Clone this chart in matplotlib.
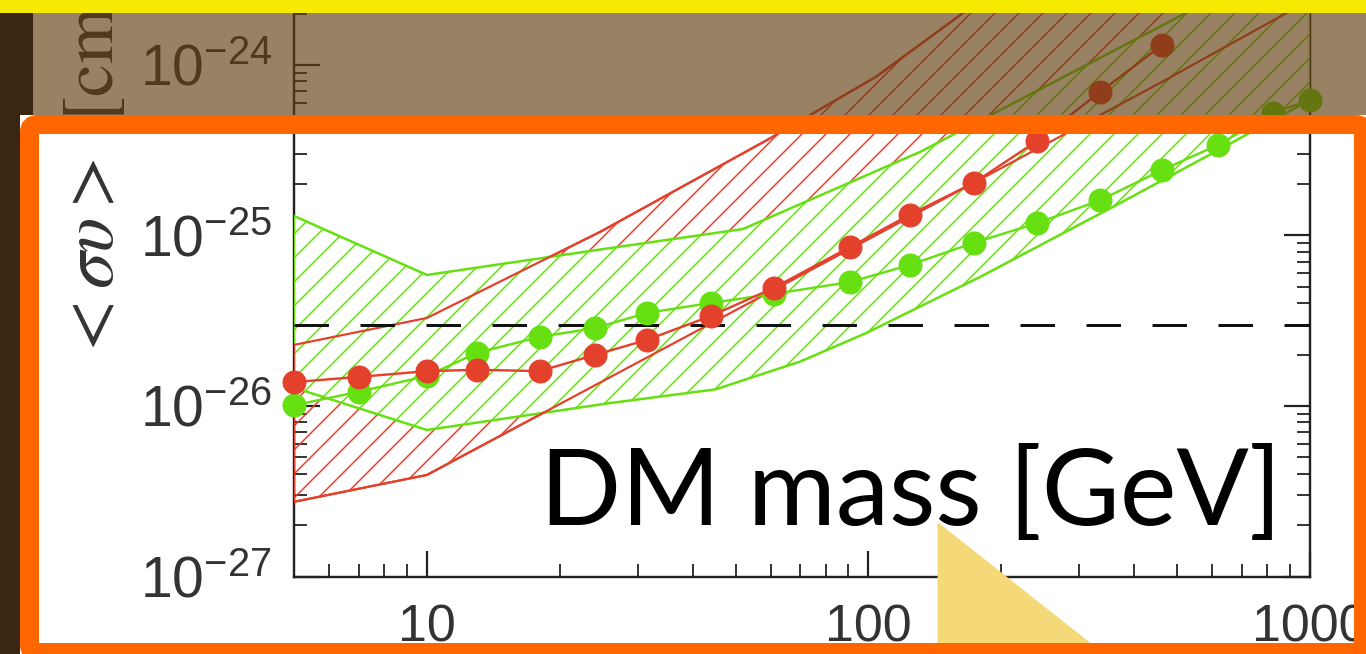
import matplotlib
matplotlib.use("Agg")
import matplotlib.pyplot as plt
import numpy as np
from matplotlib.patches import Rectangle, Polygon, FancyBboxPatch
from matplotlib.transforms import Affine2D
from matplotlib.ticker import LogLocator, NullFormatter

W, H, DPI = 1366, 654, 72

# DM mass [GeV] and <sigma v> [cm^3 s^-1]
mass = [5, 7, 10, 13, 18, 24, 31.5, 44, 61, 91, 124, 173, 241, 335, 463]
red_sv = [1.38e-26, 1.48e-26, 1.60e-26, 1.63e-26, 1.60e-26, 1.99e-26, 2.44e-26, 3.37e-26,
          4.92e-26, 8.57e-26, 1.32e-25, 2.03e-25, 3.58e-25, 6.95e-25, 1.31e-24]
green_mass = mass + [620, 825, 1000]
green_sv = [1.01e-26, 1.21e-26, 1.50e-26, 2.05e-26, 2.54e-26, 2.86e-26, 3.51e-26, 4.02e-26,
            4.54e-26, 5.33e-26, 6.71e-26, 9.04e-26, 1.18e-25, 1.61e-25, 2.42e-25, 3.40e-25,
            5.22e-25, 6.23e-25]

# hatched bands: upper and lower edges
red_up_m = [5, 10, 24.7, 59, 104, 164, 364, 1000]
red_up_sv = [2.28e-26, 3.28e-26, 1.05e-25, 3.63e-25, 8.51e-25, 2.02e-24, 9.3e-24, 1e-22]
red_lo_m = [5, 10, 61, 173, 462, 1000]
red_lo_sv = [2.74e-27, 3.94e-27, 4.79e-26, 2.03e-25, 7.94e-25, 2.4e-24]
green_up_m = [5, 10, 26, 52, 131, 490, 1000]
green_up_sv = [1.30e-25, 5.86e-26, 8.43e-26, 1.09e-25, 3.09e-25, 1.84e-24, 5.06e-24]
green_lo_m = [5, 10, 26, 45, 70, 99, 179, 358, 604, 1000]
green_lo_sv = [1.28e-26, 7.23e-27, 1.04e-26, 1.25e-26, 1.82e-26, 2.68e-26, 5.71e-26,
               1.47e-25, 3.05e-25, 6.23e-25]

thermal = 3.0e-26

xticks = [10, 100, 1000]
xtick_labels = ["10", "100", "1000"]
yticks = [1e-27, 1e-26, 1e-25, 1e-24]
ytick_labels = [r"$10^{-27}$", r"$10^{-26}$", r"$10^{-25}$", r"$10^{-24}$"]

RED = "#E4412D"
GREEN = "#66E010"

plt.rcParams["font.family"] = "Liberation Sans"
plt.rcParams["mathtext.fontset"] = "custom"
plt.rcParams["mathtext.rm"] = "Liberation Sans"
plt.rcParams["mathtext.it"] = "Liberation Sans:italic"
plt.rcParams["mathtext.bf"] = "Liberation Sans:bold"
plt.rcParams["hatch.linewidth"] = 1.5

fig = plt.figure(figsize=(W / DPI, H / DPI), dpi=DPI)
fig.patch.set_facecolor("white")
ax = fig.add_axes([294 / W, 1 - 576.5 / H, (1310 - 294) / W, 576.5 / H])
ax.set_xscale("log")
ax.set_yscale("log")
ax.set_xlim(5, 1000)
ax.set_ylim(1e-27, 2.4e-24)


def outline(up_m, up_sv, lo_m, lo_sv):
    return list(up_m) + list(lo_m)[::-1], list(up_sv) + list(lo_sv)[::-1]


rx, ry = outline(red_up_m, red_up_sv, red_lo_m, red_lo_sv)
gx, gy = outline(green_up_m, green_up_sv, green_lo_m, green_lo_sv)

# red band hatch, green band on top (white face hides red hatch), red edges above
ax.fill(rx, ry, facecolor="none", edgecolor=RED, hatch="/", lw=2.2, zorder=2)
ax.fill(gx, gy, facecolor="white", edgecolor=GREEN, hatch="/", lw=2.5, zorder=3)
ax.fill(rx, ry, facecolor="none", edgecolor=RED, lw=2.2, zorder=3.5)

ax.axhline(thermal, color="#111111", lw=3, ls=(0, (11.5, 10.5)), zorder=4)

ax.plot(green_mass, green_sv, "-o", color=GREEN, ms=23, lw=2.4, zorder=5, clip_on=False)
ax.plot(mass, red_sv, "-o", color=RED, ms=23, lw=2.4, zorder=6, clip_on=False)

for s in ["left", "bottom", "right"]:
    ax.spines[s].set_linewidth(2.4)
    ax.spines[s].set_color("#222222")
ax.spines["top"].set_visible(False)

ax.set_xticks(xticks, labels=xtick_labels)
ax.set_yticks(yticks, labels=ytick_labels)
ax.xaxis.set_minor_locator(LogLocator(base=10, subs=np.arange(2, 10)))
ax.yaxis.set_minor_locator(LogLocator(base=10, subs=np.arange(2, 10)))
ax.xaxis.set_minor_formatter(NullFormatter())
ax.yaxis.set_minor_formatter(NullFormatter())
ax.tick_params(which="both", direction="in", right=True, top=False, color="#222222",
               labelcolor="#333333")
ax.tick_params(which="major", length=26, width=2.2)
ax.tick_params(which="minor", length=13, width=1.8)
ax.tick_params(axis="y", which="major", pad=22, labelsize=57)
ax.tick_params(axis="x", which="major", pad=27, labelsize=52)

fig.text(90 / W, 1 - 361 / H, r"$<\sigma\upsilon>\;\,[\mathrm{cm}^3\,\mathrm{s}^{-1}]$",
         rotation=90, ha="center", va="bottom", fontsize=74, math_fontfamily="stix",
         color="#333333")

# slide decorations in pixel coordinates (origin top-left)
px = Affine2D().scale(1 / W, -1 / H).translate(0, 1) + fig.transFigure

fig.add_artist(Polygon([(938, 523), (1106, 656), (938, 656)], closed=True, color="#F5D878",
                       transform=px, zorder=7))
fig.text(540 / W, 1 - 525 / H, "DM mass [GeV]", fontsize=107, family="Lato",
         ha="left", va="baseline", color="black", zorder=7.5)
fig.add_artist(Rectangle((33, 13), W - 33, 102, color="#623D0F", alpha=0.65, lw=0,
                         transform=px, zorder=8))
fig.add_artist(Rectangle((0, 13), 33, 102, color="#3A2611", lw=0, transform=px, zorder=9))
fig.add_artist(Rectangle((0, 115), 20, H - 115, color="#3A2611", lw=0, transform=px, zorder=9))
fig.add_artist(Rectangle((0, 0), W, 13, color="#F6EA00", lw=0, transform=px, zorder=10))
fig.add_artist(FancyBboxPatch((29.5, 124.5), 1363.5 - 29.5, 652.5 - 124.5,
                              boxstyle="round,pad=0,rounding_size=8", fc="none",
                              ec="#FF6600", lw=19, transform=px, zorder=11))

fig.savefig("out.png", dpi=DPI)
